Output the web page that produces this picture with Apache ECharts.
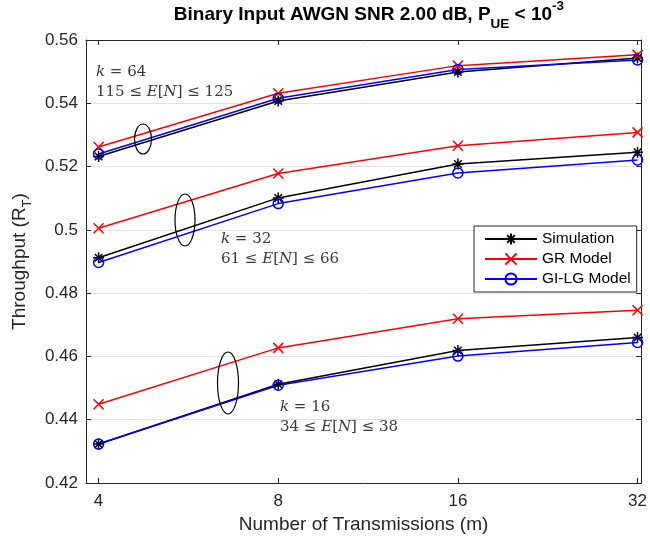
<!DOCTYPE html>
<html>
<head>
<meta charset="utf-8">
<script src="https://cdn.jsdelivr.net/npm/echarts@6/dist/echarts.min.js"></script>
<style>
  html, body { margin: 0; padding: 0; background: #fff; }
  #chart { width: 650px; height: 539px; }
</style>
</head>
<body>
<div id="chart"></div>
<script>
// Number of transmissions m (x axis is log2-spaced)
const transmissions = [4, 8, 16, 32];
const yTicks = [0.42, 0.44, 0.46, 0.48, 0.50, 0.52, 0.54, 0.56];

// k = 64
const sim64  = [0.5232, 0.5407, 0.5499, 0.5543];
const gr64   = [0.5262, 0.5432, 0.5519, 0.5553];
const gilg64 = [0.5240, 0.5416, 0.5507, 0.5537];
// k = 32
const sim32  = [0.4912, 0.5101, 0.5208, 0.5245];
const gr32   = [0.5005, 0.5178, 0.5266, 0.5308];
const gilg32 = [0.4897, 0.5083, 0.5180, 0.5221];
// k = 16
const sim16  = [0.4323, 0.4512, 0.4619, 0.4660];
const gr16   = [0.4449, 0.4627, 0.4719, 0.4746];
const gilg16 = [0.4323, 0.4509, 0.4601, 0.4644];

const AXIS_COLOR = '#262626';
const SANS = 'Liberation Sans, Arial, sans-serif';
const SERIF = 'DejaVu Serif, serif';

const ASTERISK = 'path://M5,0L5,10M0,5L10,5M1.6,1.6L8.4,8.4M8.4,1.6L1.6,8.4';
const CROSS = 'path://M0,0L10,10M10,0L0,10';

const styles = {
  'Simulation':  { color: '#000000', symbol: ASTERISK, size: 11 },
  'GR Model':    { color: '#ff0000', symbol: CROSS,    size: 10 },
  'GI-LG Model': { color: '#0000ff', symbol: 'circle', size: 10 }
};

function toPoints(vals) {
  return vals.map((v, i) => [Math.log2(transmissions[i]), v]);
}

function makeSeries(name, vals) {
  const s = styles[name];
  return {
    name: name,
    type: 'line',
    data: toPoints(vals),
    symbol: s.symbol,
    symbolSize: s.size,
    showAllSymbol: true,
    lineStyle: { color: s.color, width: 1.5 },
    itemStyle: { color: 'rgba(0,0,0,0)', borderColor: s.color, borderWidth: 1.5 },
    emphasis: { disabled: true },
    animation: false,
    z: 3
  };
}

const series = [];
[[sim64, gr64, gilg64], [sim32, gr32, gilg32], [sim16, gr16, gilg16]].forEach(group => {
  series.push(makeSeries('Simulation', group[0]));
  series.push(makeSeries('GR Model', group[1]));
  series.push(makeSeries('GI-LG Model', group[2]));
});

const xTickVals = transmissions.map(m => Math.log2(m));

const baseX = {
  type: 'value',
  min: 1.93,
  max: 5.02,
  splitLine: { show: false },
  axisLine: { show: true, onZero: false, lineStyle: { color: AXIS_COLOR, width: 1 } },
  axisTick: { show: true, inside: true, length: 5, customValues: xTickVals, lineStyle: { color: AXIS_COLOR } }
};

const baseY = {
  type: 'value',
  min: 0.42,
  max: 0.56,
  interval: 0.02,
  axisLine: { show: true, onZero: false, lineStyle: { color: AXIS_COLOR, width: 1 } },
  axisTick: { show: true, inside: true, length: 5, lineStyle: { color: AXIS_COLOR } }
};

const chart = echarts.init(document.getElementById('chart'), null, { renderer: 'canvas' });

// Ellipses group the curves for each k; text gives k and the E[N] range
const NOTE_COLOR = '#3a3a3a';
function annotation(x, y, k, range) {
  return {
    type: 'text',
    x: x, y: y,
    silent: true,
    style: {
      text: '{i|k} = ' + k + '\n' + range,
      fontFamily: SERIF,
      fontSize: 15,
      lineHeight: 20,
      fill: NOTE_COLOR,
      rich: {
        i: { fontFamily: SERIF, fontStyle: 'italic', fontSize: 15, fill: NOTE_COLOR },
        e: { fontFamily: SERIF, fontStyle: 'italic', fontSize: 15, fill: NOTE_COLOR }
      }
    }
  };
}

function ellipse(cx, cy, rx, ry) {
  return {
    type: 'ellipse',
    silent: true,
    shape: { cx: cx, cy: cy, rx: rx, ry: ry },
    style: { fill: 'none', stroke: '#000', lineWidth: 1.2 },
    z: 10
  };
}

chart.setOption({
  animation: false,
  backgroundColor: '#ffffff',
  grid: { left: 86, right: 3, top: 40, bottom: 56, containLabel: false },
  legend: {
    data: ['Simulation', 'GR Model', 'GI-LG Model'],
    orient: 'vertical',
    left: 474,
    top: 226,
    itemWidth: 52,
    itemHeight: 14,
    itemGap: 4,
    padding: [5, 6, 5, 10],
    borderColor: AXIS_COLOR,
    borderWidth: 1,
    backgroundColor: '#ffffff',
    selectedMode: false,
    textStyle: { fontFamily: SANS, fontSize: 15.5, color: '#000', padding: [0, 0, 0, 0] },
    z: 20
  },
  xAxis: [
    Object.assign({}, baseX, {
      position: 'bottom',
      name: 'Number of Transmissions (m)',
      nameLocation: 'middle',
      nameGap: 32,
      nameTextStyle: { fontFamily: SANS, fontSize: 19, color: AXIS_COLOR },
      axisLabel: {
        show: true,
        margin: 10,
        customValues: xTickVals,
        formatter: v => String(Math.round(Math.pow(2, v))),
        fontFamily: SANS, fontSize: 17, color: AXIS_COLOR
      }
    }),
    Object.assign({}, baseX, { position: 'top', axisLabel: { show: false } })
  ],
  yAxis: [
    Object.assign({}, baseY, {
      position: 'left',
      name: '{n|Throughput (R}{s|T}{n|)}',
      nameLocation: 'middle',
      nameGap: 47,
      nameRotate: 90,
      nameTextStyle: {
        rich: {
          n: { fontFamily: SANS, fontSize: 19, color: AXIS_COLOR, verticalAlign: 'middle', lineHeight: 28 },
          s: { fontFamily: SANS, fontSize: 13, color: AXIS_COLOR, verticalAlign: 'bottom', lineHeight: 28 }
        }
      },
      splitLine: { show: true, lineStyle: { color: '#e3e3e3', width: 1 } },
      axisLabel: {
        show: true,
        margin: 8,
        formatter: v => {
          const r = Math.round(v * 100) / 100;
          return r === 0.5 ? '0.5' : r.toFixed(2);
        },
        fontFamily: SANS, fontSize: 17, color: AXIS_COLOR
      }
    }),
    Object.assign({}, baseY, { position: 'right', axisLabel: { show: false }, splitLine: { show: false } })
  ],
  series: series,
  graphic: [
    {
      type: 'text',
      x: 369, y: -1,
      silent: true,
      style: {
        text: '{b|Binary Input AWGN SNR 2.00 dB, P}{sub|UE}{b| < 10}{sup|-3}',
        align: 'center',
        rich: {
          b: { fontFamily: SANS, fontWeight: 'bold', fontSize: 19, fill: '#000', lineHeight: 32, verticalAlign: 'middle' },
          sub: { fontFamily: SANS, fontWeight: 'bold', fontSize: 13.5, fill: '#000', lineHeight: 32, verticalAlign: 'bottom' },
          sup: { fontFamily: SANS, fontWeight: 'bold', fontSize: 13.5, fill: '#000', lineHeight: 32, verticalAlign: 'top' }
        }
      }
    },
    ellipse(143, 139, 8.5, 15),
    ellipse(185, 220, 10, 26),
    ellipse(228, 383, 10.5, 31),
    annotation(96, 62, 64, '115 ≤ {e|E}[{e|N}] ≤ 125'),
    annotation(221, 229, 32, '61 ≤ {e|E}[{e|N}] ≤ 66'),
    annotation(280, 397, 16, '34 ≤ {e|E}[{e|N}] ≤ 38')
  ]
});
</script>
</body>
</html>
